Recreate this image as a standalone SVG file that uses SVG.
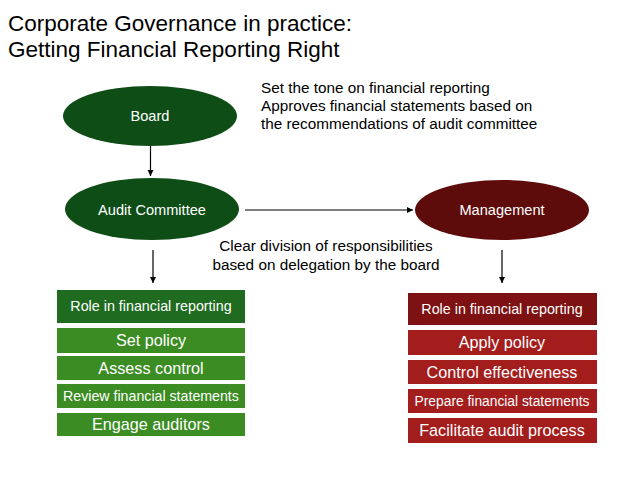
<svg xmlns="http://www.w3.org/2000/svg" width="638" height="479" viewBox="0 0 638 479">
<defs>
<marker id="ah" markerWidth="8" markerHeight="8" refX="6" refY="3" orient="auto" markerUnits="userSpaceOnUse">
<path d="M0,0 L6,3 L0,6 Z" fill="#000"/>
</marker>
<style>
text{font-family:"Liberation Sans",Arial,sans-serif}
.title{font-size:22.5px;fill:#000}
.note{font-size:15.3px;fill:#000}
.w{fill:#fff;text-anchor:middle}
.el{font-size:14.6px}
.hd{font-size:14.3px}
.it{font-size:16.2px}
.its{font-size:14.2px}
.its2{font-size:13.8px}
.g1{fill:#0f4d17}
.g2{fill:#1f6b1f}
.g3{fill:#3b8c22}
.r1{fill:#5e0b0b}
.r2{fill:#7e1111}
.r3{fill:#a31d1d}
.c{stroke:#000;stroke-width:1.2;fill:none;marker-end:url(#ah)}
</style>
</defs>
<rect width="638" height="479" fill="#fff"/>
<text class="title" x="8" y="31">Corporate Governance in practice:</text>
<text class="title" x="8" y="57">Getting Financial Reporting Right</text>
<text class="note" x="261" y="93">Set the tone on financial reporting</text>
<text class="note" x="261" y="111">Approves financial statements based on</text>
<text class="note" x="261" y="129">the recommendations of audit committee</text>
<text class="note" x="326" y="251" text-anchor="middle">Clear division of responsibilities</text>
<text class="note" x="326" y="270" text-anchor="middle">based on delegation by the board</text>
<g id="connectors">
<line class="c" x1="150.5" y1="146" x2="150.5" y2="176"/>
<line class="c" x1="245" y1="210" x2="413" y2="210"/>
<line class="c" x1="153" y1="250" x2="153" y2="283"/>
<line class="c" x1="502" y1="250" x2="502" y2="283"/>
</g>
<g id="board"><ellipse class="g1" cx="150" cy="116" rx="87" ry="30"/><text class="w el" x="150" y="121">Board</text></g>
<g id="audit-committee"><ellipse class="g1" cx="152" cy="209" rx="87" ry="31"/><text class="w el" x="152" y="215">Audit Committee</text></g>
<g id="management"><ellipse class="r1" cx="502" cy="210" rx="87" ry="30"/><text class="w el" x="502" y="215">Management</text></g>
<g id="ac-role"><rect class="g2" x="57" y="290" width="188" height="33"/><text class="w hd" x="151" y="311">Role in financial reporting</text></g>
<g id="ac-set-policy"><rect class="g3" x="57" y="328" width="188" height="25"/><text class="w it" x="151" y="346">Set policy</text></g>
<g id="ac-assess-control"><rect class="g3" x="57" y="356" width="188" height="24"/><text class="w it" x="151" y="374">Assess control</text></g>
<g id="ac-review"><rect class="g3" x="57" y="384" width="188" height="24"/><text class="w its" x="151" y="401">Review financial statements</text></g>
<g id="ac-engage"><rect class="g3" x="57" y="413" width="188" height="23"/><text class="w it" x="151" y="430">Engage auditors</text></g>
<g id="mg-role"><rect class="r2" x="408" y="293" width="189" height="32"/><text class="w hd" x="502" y="314">Role in financial reporting</text></g>
<g id="mg-apply-policy"><rect class="r3" x="408" y="330" width="189" height="25"/><text class="w it" x="502" y="348">Apply policy</text></g>
<g id="mg-control"><rect class="r3" x="408" y="360" width="189" height="24"/><text class="w it" x="502" y="378">Control effectiveness</text></g>
<g id="mg-prepare"><rect class="r3" x="408" y="389" width="189" height="24"/><text class="w its2" x="502" y="406">Prepare financial statements</text></g>
<g id="mg-facilitate"><rect class="r3" x="408" y="418" width="189" height="25"/><text class="w it" x="502" y="436">Facilitate audit process</text></g>
</svg>
